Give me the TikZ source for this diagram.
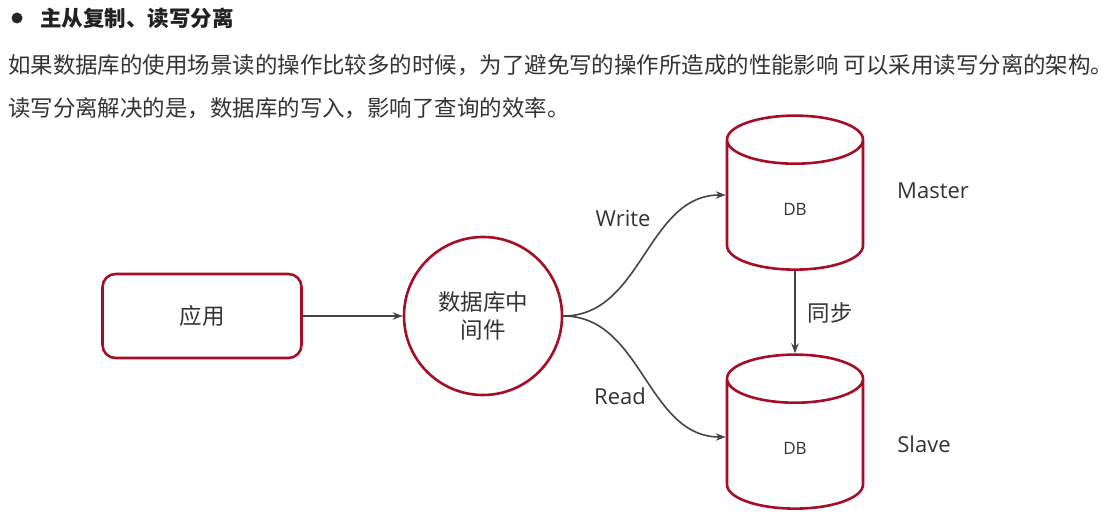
\documentclass[tikz,border=0pt]{standalone}
\usepackage{fontspec}
\setmainfont{Noto Sans CJK SC}
\newfontfamily\latinfont{Open Sans}
\usetikzlibrary{arrows.meta,positioning,shapes.geometric}
\definecolor{dbred}{RGB}{165,14,38}
\definecolor{txtgray}{RGB}{51,51,51}
\definecolor{linegray}{RGB}{68,68,68}

\begin{document}
\begin{tikzpicture}[x=1bp,y=-1bp,
    txt/.style={anchor=west,inner sep=0pt,text=txtgray,font=\fontsize{22.45bp}{26bp}\selectfont},
    app/.style={rectangle,draw=dbred,line width=2.6bp,rounded corners=13bp,
      minimum width=199bp,minimum height=84bp,text=txtgray,font=\fontsize{22.5bp}{27bp}\selectfont},
    mw/.style={circle,draw=dbred,line width=2.6bp,minimum size=158bp,inner sep=0pt,
      align=center,text=txtgray,font=\fontsize{22.5bp}{28bp}\selectfont},
    db/.style={cylinder,shape border rotate=90,aspect=1.6,draw=dbred,line width=2.6bp,
      minimum width=136bp,minimum height=154bp,text=txtgray,font=\latinfont\fontsize{17bp}{20bp}\selectfont},
    lbl/.style={text=txtgray,font=\latinfont\fontsize{22bp}{26bp}\selectfont},
    a/.style={-{Stealth[length=10bp,width=7.5bp]},linegray,line width=1.6bp}]
    \useasboundingbox (0,0) rectangle (1117,526);
    % heading and text
    \node[circle,fill=black!85,inner sep=0pt,minimum size=11bp] (bullet) at (17,18) {};
    \node[txt,text=black!87,font=\bfseries\fontsize{21.5bp}{26bp}\selectfont] (title) at (40,18) {主从复制、读写分离};
    \node[txt] (line1) at (8,65) {如果数据库的使用场景读的操作比较多的时候，为了避免写的操作所造成的性能影响 可以采用读写分离的架构。};
    \node[txt] (line2) at (8,108) {读写分离解决的是，数据库的写入，影响了查询的效率。};
    % diagram
    \node[app] (app) at (202,316) {应用};
    \node[mw] (mw) at (483,316) {数据库中\\间件};
    \node[db] (master) at (795,209) {DB};
    \node[db] (slave) at (795,448) {DB};
    \node[lbl] (masterlbl) at (933,191) {Master};
    \node[lbl] (slavelbl) at (924,444) {Slave};
    \node[lbl] (wlbl) at (623,219) {Write};
    \node[lbl] (rlbl) at (620,396) {Read};
    \node[txt,anchor=center] (sync) at (830,313) {同步};
    \draw[a] (app) -- (mw);
    \draw[a] (mw.east) to[out=0,in=180] ([yshift=14bp]master.west);
    \draw[a] (mw.east) to[out=0,in=180] ([yshift=11bp]slave.west);
    \draw[a] (master) -- (slave);
\end{tikzpicture}
\end{document}
